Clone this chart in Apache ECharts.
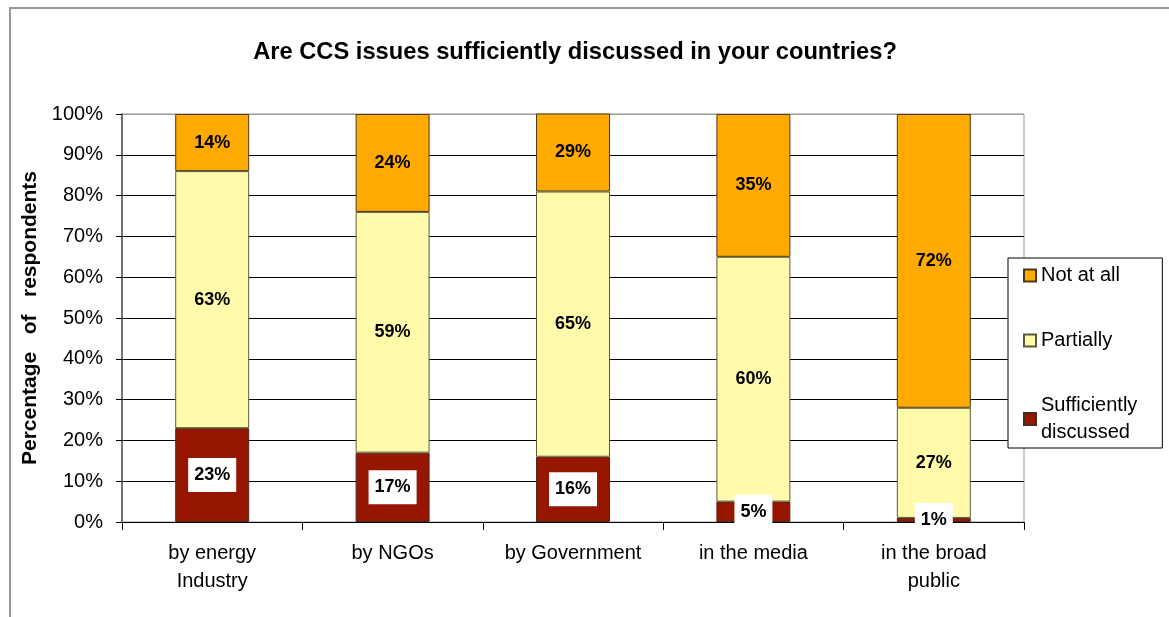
<!DOCTYPE html>
<html>
<head>
<meta charset="utf-8">
<script src="https://cdn.jsdelivr.net/npm/echarts@6/dist/echarts.min.js"></script>
<style>
  html, body { margin: 0; padding: 0; background: #fff; }
  #chart { width: 1169px; height: 617px; }
</style>
</head>
<body>
<div id="chart"></div>
<script>
// Survey answers per channel, in percent of respondents
const categories = ['by energy\nIndustry', 'by NGOs', 'by Government', 'in the media', 'in the broad\npublic'];
const sufficientlyDiscussed = [23, 17, 16, 5, 1];
const partially = [63, 59, 65, 60, 27];
const notAtAll = [14, 24, 29, 35, 72];
const yTicks = [0, 10, 20, 30, 40, 50, 60, 70, 80, 90, 100];

const FONT = "'Liberation Sans', Arial, sans-serif";
const chart = echarts.init(document.getElementById('chart'));

// gridlines are black, the top one coincides with the grey plot frame
const splitColors = yTicks.map((v, i) => i === yTicks.length - 1 ? '#999999' : '#000000');

const segLabel = {
  show: true,
  position: 'inside',
  formatter: '{c}%',
  fontFamily: FONT,
  fontSize: 18,
  fontWeight: 'bold',
  color: '#000'
};

chart.setOption({
  animation: false,
  backgroundColor: '#ffffff',
  textStyle: { fontFamily: FONT },
  title: {
    text: 'Are CCS issues sufficiently discussed in your countries?',
    left: 570,
    textAlign: 'center',
    top: 35,
    textStyle: { fontFamily: FONT, fontSize: 23.7, fontWeight: 'bold', color: '#000' }
  },
  graphic: [{
    type: 'rect',
    shape: { x: 10, y: 8, width: 1200, height: 640 },
    style: { fill: 'none', stroke: '#999999', lineWidth: 2 },
    silent: true,
    z: -1
  }],
  legend: {
    orient: 'vertical',
    left: 1008,
    top: 258,
    data: ['Not at all', 'Partially', 'Sufficiently discussed'],
    formatter: name => name === 'Sufficiently discussed' ? 'Sufficiently\ndiscussed' : name,
    icon: 'rect',
    itemWidth: 12,
    itemHeight: 12,
    itemGap: 38,
    padding: [4, 25, 2, 15],
    borderColor: '#000',
    borderWidth: 1,
    backgroundColor: '#fff',
    textStyle: { fontFamily: FONT, fontSize: 20, color: '#000', lineHeight: 27 }
  },
  grid: {
    left: 122,
    right: 145,
    top: 114,
    bottom: 95,
    show: true,
    borderColor: '#999999',
    borderWidth: 1,
    backgroundColor: 'transparent'
  },
  xAxis: {
    type: 'category',
    data: categories,
    axisLine: { show: true, lineStyle: { color: '#000', width: 1 } },
    axisTick: { show: true, length: 8, lineStyle: { color: '#000' } },
    axisLabel: {
      fontFamily: FONT, fontSize: 20, color: '#000', lineHeight: 28, margin: 17, interval: 0
    }
  },
  yAxis: {
    type: 'value',
    min: 0,
    max: 100,
    interval: 10,
    name: 'Percentage   of   respondents',
    nameLocation: 'middle',
    nameGap: 79,
    nameTextStyle: { fontFamily: FONT, fontSize: 21, fontWeight: 'bold', color: '#000' },
    axisLine: { show: true, lineStyle: { color: '#555', width: 1.5 } },
    axisTick: { show: true, length: 6, lineStyle: { color: '#000' } },
    axisLabel: { formatter: '{value}%', fontFamily: FONT, fontSize: 20, color: '#000', margin: 19 },
    splitLine: { show: true, lineStyle: { color: splitColors, width: 1 } }
  },
  series: [
    {
      name: 'Sufficiently discussed',
      type: 'bar',
      stack: 'total',
      data: sufficientlyDiscussed,
      barWidth: '41%',
      itemStyle: { color: '#961600', borderColor: '#4a2a1a', borderWidth: 1 },
      label: Object.assign({}, segLabel, { backgroundColor: '#fff', padding: [8, 6, 8, 6] })
    },
    {
      name: 'Partially',
      type: 'bar',
      stack: 'total',
      data: partially,
      itemStyle: { color: '#FFFBAA', borderColor: '#5a5a3a', borderWidth: 1 },
      label: segLabel
    },
    {
      name: 'Not at all',
      type: 'bar',
      stack: 'total',
      data: notAtAll,
      itemStyle: { color: '#FFAA00', borderColor: '#4a3a1a', borderWidth: 1 },
      label: segLabel
    }
  ]
});
</script>
</body>
</html>
